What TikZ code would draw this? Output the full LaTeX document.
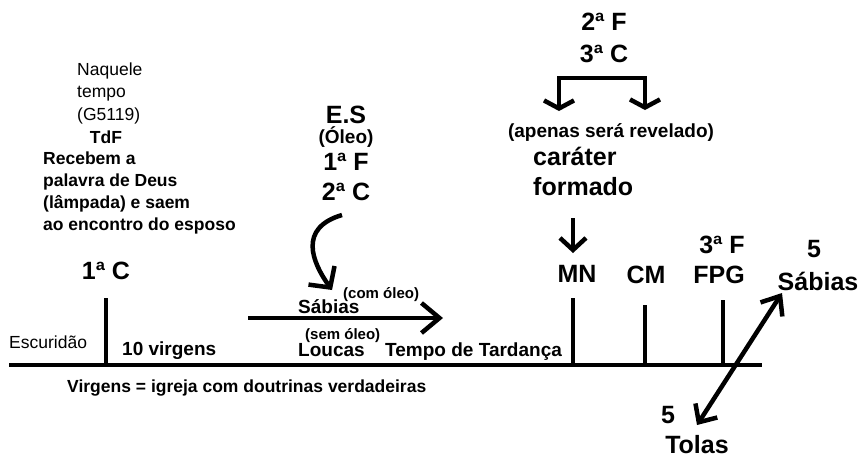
\documentclass[tikz,border=0pt]{standalone}
\usepackage{fontspec}
\setmainfont{Liberation Sans}
\usetikzlibrary{arrows.meta}
\begin{document}
\begin{tikzpicture}[x=1pt, y=-1pt,
  big/.style={inner sep=0pt, font=\bfseries\fontsize{25}{30}\selectfont},
  mid/.style={inner sep=0pt, font=\bfseries\fontsize{19}{23}\selectfont},
  body/.style={inner sep=0pt, font=\bfseries\fontsize{17.5}{22}\selectfont},
  small/.style={inner sep=0pt, font=\bfseries\fontsize{15}{18}\selectfont},
  thin/.style={inner sep=0pt, font=\fontsize{17.5}{22.5}\selectfont},
  line/.style={line width=4pt},
  barb/.style 2 args={line width=4.5pt, -{Straight Barb[length=#1, width=#2]}}]
\useasboundingbox (0,0) rectangle (862,459);

% timeline and ticks
\draw[line] (9,365) -- (762,365);
\foreach \x/\t in {106/298, 573/298, 645/305, 723/300}
  \draw[line] (\x,365) -- (\x,\t);

% left part
\node[thin, anchor=base west, align=left] (naquele) at (77,120) {Naquele\\tempo\\(G5119)};
\node[body, anchor=base] (tdf) at (106,143) {TdF};
\node[body, anchor=base west, align=left] (recebem) at (43,230)
  {Recebem a\\palavra de Deus\\(lâmpada) e saem\\ao encontro do esposo};
\node[big, anchor=base] (c1) at (106,279) {1ª C};
\node[thin, anchor=base west] (escuridao) at (9,348) {Escuridão};
\node[mid, anchor=base west] (dez) at (122,355) {10 virgens};
\node[body, anchor=base west] (virgens) at (67,392) {Virgens = igreja com doutrinas verdadeiras};

% oil
\node[big, anchor=base] (es) at (346,123) {E.S};
\node[mid, anchor=base] (oleo) at (346,143) {(Óleo)};
\node[big, anchor=base] (f1) at (346,170) {1ª F};
\node[big, anchor=base] (c2) at (346,200) {2ª C};
\coordinate (ctop) at (342,215);
\coordinate (ctip) at (332,290);
\draw[barb={15pt}{32pt}] (ctop) .. controls (298,228) and (312,262) .. (ctip);

% wise and foolish
\node[small, anchor=base west] (comoleo) at (343,298) {(com óleo)};
\node[mid, anchor=base west] (sabias) at (298,313) {Sábias};
\node[small, anchor=base west] (semoleo) at (305,339) {(sem óleo)};
\node[mid, anchor=base west] (loucas) at (298,356) {Loucas};
\coordinate (hs) at (248,318);
\coordinate (he) at (443,318);
\draw[barb={18pt}{30pt}] (hs) -- (he);
\node[mid, anchor=base west] (tardanca) at (385,356) {Tempo de Tardança};

% right part
\node[big, anchor=base] (f2) at (604,30) {2ª F};
\node[big, anchor=base] (c3) at (604,62) {3ª C};
\coordinate (bk) at (603,78);
\draw[barb={8pt}{30pt}] (bk) -| (559,111);
\draw[barb={8pt}{30pt}] (bk) -| (645,110);
\node[mid, anchor=base] (apenas) at (611,137) {(apenas será revelado)};
\node[big, anchor=base west, align=left] (carater) at (533,195) {caráter\\formado};
\coordinate (mntop) at (573,218);
\draw[barb={12pt}{26pt}] (mntop) -- (mntop |- 0,253);

\node[big, anchor=base] (mn) at (577,282) {MN};
\node[big, anchor=base] (cm) at (646,283) {CM};
\node[big, anchor=base] (f3) at (722,253) {3ª F};
\node[big, anchor=base] (fpg) at (719,283) {FPG};

% end
\node[big, anchor=base] (cinco) at (814,257) {5};
\node[big, anchor=base] (sabias2) at (818,290) {Sábias};
\node[big, anchor=base] (cinco2) at (668,423) {5};
\node[big, anchor=base] (tolas) at (697,453) {Tolas};
\coordinate (dtop) at (782,293);
\coordinate (dbot) at (697,425);
\draw[line width=4.5pt, {Straight Barb[length=14pt, width=26pt]}-{Straight Barb[length=16pt, width=26pt]}] (dbot) -- (dtop);
\end{tikzpicture}
\end{document}
